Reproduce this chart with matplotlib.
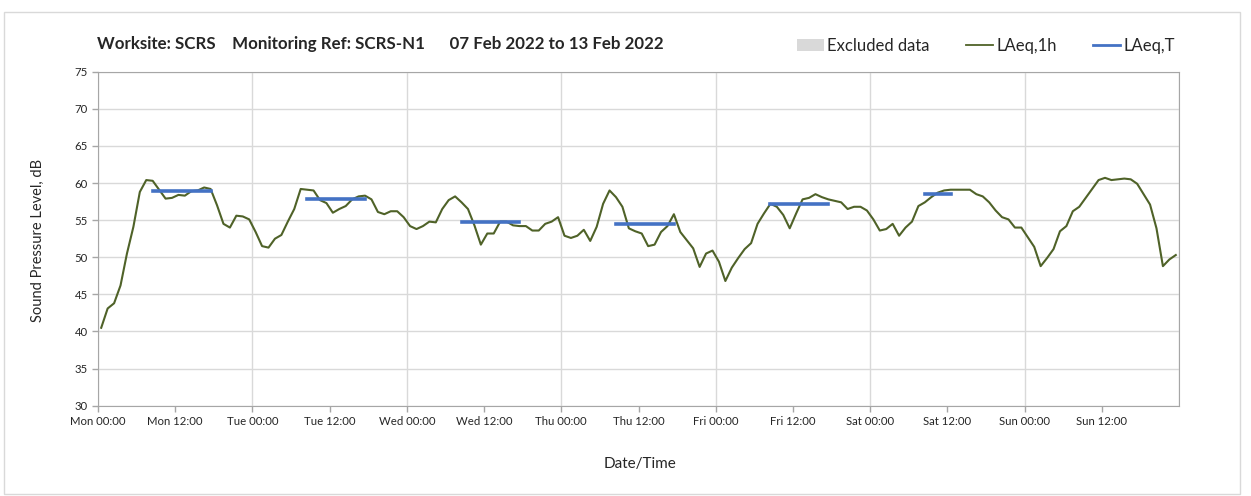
import matplotlib
matplotlib.use('Agg')
import matplotlib.pyplot as plt
import matplotlib.dates as mdates
from matplotlib.lines import Line2D
from matplotlib.patches import Patch, Rectangle
import pandas as pd

# hourly LAeq,1h, Mon 07 Feb 2022 00:00 -> Sun 13 Feb 2022 23:00
laeq_1h = [
    40.5, 43.1, 43.8, 46.2, 50.5, 54.1, 58.8, 60.4, 60.3, 59.1,
    57.9, 58.0, 58.4, 58.3, 58.9, 59.0, 59.4, 59.2, 57.0, 54.5,
    54.0, 55.6, 55.5, 55.1, 53.4, 51.5, 51.3, 52.5, 53.0, 54.8,
    56.5, 59.2, 59.1, 59.0, 57.7, 57.3, 56.0, 56.5, 56.9, 57.8,
    58.2, 58.3,
    57.8, 56.1, 55.8, 56.2, 56.2, 55.4, 54.2, 53.8, 54.2, 54.8,
    54.7, 56.5, 57.7, 58.2, 57.4, 56.5, 54.3, 51.7, 53.2, 53.2,
    54.8, 54.8, 54.3, 54.2, 54.2, 53.6, 53.6, 54.5, 54.8, 55.4,
    52.9, 52.6, 52.9, 53.7, 52.2, 54.1, 57.2, 59.0, 58.1, 56.8,
    53.9, 53.5,
    53.2, 51.5, 51.7, 53.4, 54.2, 55.8, 53.4, 52.3, 51.2, 48.7,
    50.5, 50.9, 49.4, 46.8, 48.6, 49.9, 51.1, 51.9, 54.5, 55.9,
    57.2, 56.8, 55.7, 53.9, 55.9, 57.8, 58.0, 58.5, 58.1, 57.8,
    57.6, 57.4, 56.5, 56.8, 56.8, 56.3, 55.1, 53.6, 53.8, 54.5,
    52.9, 54.0,
    54.8, 56.9, 57.4, 58.1, 58.7, 59.0, 59.1, 59.1, 59.1, 59.1,
    58.5, 58.2, 57.4, 56.3, 55.4, 55.1, 54.0, 54.0, 52.7, 51.4,
    48.8, 49.9, 51.1, 53.5, 54.2, 56.2, 56.8, 58.0, 59.2, 60.4,
    60.7, 60.4, 60.5, 60.6, 60.5, 59.9, 58.5, 57.1, 53.9, 48.8,
    49.7, 50.3,
]

# LAeq,T periods (hour index of first / last hour) and values
period_start = [8, 32, 56, 80, 104, 128]
period_end = [17, 41, 65, 89, 113, 132]
laeq_t = [58.9, 57.9, 54.8, 54.5, 57.2, 58.5]

GREEN = '#4f6228'
BLUE = '#4472c4'
GRID = '#d9d9d9'
AXIS = '#a6a6a6'
TXT = '#262626'

plt.rcParams['font.family'] = ['Lato', 'DejaVu Sans']

W, H = 1251, 496
fig = plt.figure(figsize=(W / 100, H / 100), dpi=100)
ax = fig.add_axes([98 / W, 1 - 405.7 / H, 1081 / W, 334 / H])

times = pd.date_range('2022-02-07 00:30', periods=len(laeq_1h), freq='h')
ax.plot(times, laeq_1h, color=GREEN, lw=1.5, zorder=3)
for s, e, v in zip(period_start, period_end, laeq_t):
    ax.plot([times[s], times[e]], [v, v], color=BLUE, lw=2.6, zorder=4)

t0 = pd.Timestamp('2022-02-07')
t1 = pd.Timestamp('2022-02-14')
ax.set_xlim(t0, t1)
ax.set_ylim(30, 75)
ax.set_yticks(range(30, 76, 5))
ax.grid(axis='y', color=GRID, lw=1)
for d in pd.date_range(t0, t1, freq='D'):
    ax.axvline(d, color=GRID, lw=1, zorder=0)
ax.set_axisbelow(True)

ticks = pd.date_range(t0, periods=14, freq='12h')
ax.set_xticks(ticks)
ax.xaxis.set_major_formatter(mdates.DateFormatter('%a %H:%M'))
ax.tick_params(axis='both', labelsize=8.2, colors=AXIS, labelcolor=TXT, length=4, width=1)
for sp in ax.spines.values():
    sp.set_color(AXIS)

fig.text(38 / W, 1 - 240 / H, 'Sound Pressure Level, dB', rotation=90,
         ha='center', va='center', fontsize=10.5, color=TXT)
fig.text(640 / W, 1 - 464 / H, 'Date/Time', ha='center', va='center',
         fontsize=11, color=TXT)
fig.text(97 / W, 1 - 44 / H,
         'Worksite: SCRS    Monitoring Ref: SCRS-N1      07 Feb 2022 to 13 Feb 2022',
         ha='left', va='center', fontsize=12.2, fontweight='bold', color=TXT)

handles = [Patch(facecolor='#d9d9d9', edgecolor='none'),
           Line2D([], [], color=GREEN, lw=1.3),
           Line2D([], [], color=BLUE, lw=2)]
fig.legend(handles, ['Excluded data', 'LAeq,1h', 'LAeq,T'],
           loc='center left', bbox_to_anchor=(797 / W, 1 - 46 / H), ncol=3,
           frameon=False, fontsize=12, handlelength=1.6, handletextpad=0.2,
           columnspacing=2.2, borderaxespad=0, borderpad=0, labelcolor=TXT)

fig.add_artist(Rectangle((4 / W, 2 / H), 1236 / W, 1 - 14 / H,
                         transform=fig.transFigure, fill=False,
                         edgecolor=GRID, lw=1))

fig.savefig('out.png', dpi=100)
